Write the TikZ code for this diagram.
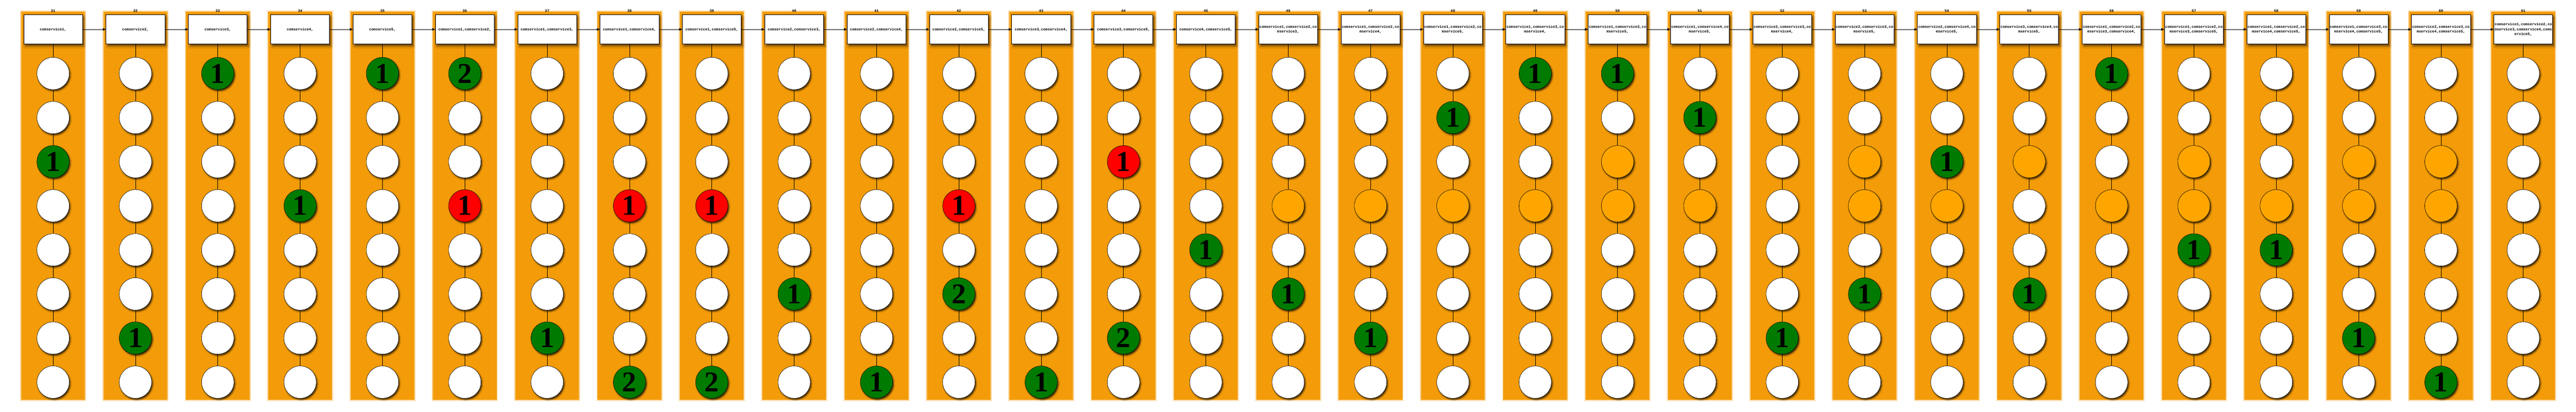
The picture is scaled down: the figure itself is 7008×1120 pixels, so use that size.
\documentclass[tikz,border=0pt]{standalone}
\usepackage{fontspec}
\usetikzlibrary{arrows.meta,shadows.blur}
\newfontfamily\digitfont{Liberation Serif}
\newfontfamily\boxmono{Liberation Mono}
\definecolor{bandc}{RGB}{243,155,8}
\definecolor{cgreen}{RGB}{0,122,0}
\definecolor{cred}{RGB}{255,0,0}
\definecolor{corange}{RGB}{255,165,0}
\begin{document}
\begin{tikzpicture}[x=1pt,y=-1pt,
 statebox/.style={draw=black, line width=1.1pt, fill=white, minimum width=160pt, minimum height=80pt,
   inner sep=0pt, align=center, font=\boxmono\bfseries\fontsize{10}{13}\selectfont,
   blur shadow={shadow xshift=4pt, shadow yshift=-6pt, shadow blur radius=5pt, shadow opacity=55}},
 circ/.style={circle, draw=black, line width=0.8pt, minimum size=88pt, inner sep=0pt,
   font=\digitfont\bfseries\fontsize{78}{78}\selectfont,
   blur shadow={shadow xshift=3pt, shadow yshift=-4pt, shadow blur radius=3pt, shadow opacity=70}},
 collabel/.style={font=\boxmono\bfseries\fontsize{10}{12}\selectfont, inner sep=0pt},
 link/.style={draw=black, line width=0.8pt},
 arr/.style={draw=black, line width=1pt, -{Triangle[length=8pt,width=7pt]}},
 bandfill/.style={fill=bandc}
]
\useasboundingbox (0,0) rectangle (7008,1120);
% orange column bands with a soft edge
\foreach \kk in {0,...,30}{
  \pgfmathsetmacro\cx{144.5+224*\kk}
  \fill[bandfill, opacity=0.25] (\cx-90,28.5) rectangle (\cx+90,1091.5);
  \fill[bandfill, opacity=0.5] (\cx-88,30.5) rectangle (\cx+88,1089.5);
  \fill[bandfill] (\cx-86,32.5) rectangle (\cx+86,1087.5);
}
\foreach \kk/\txt/\spec in {
 0/{comservice1,}/{3/cgreen/1},
 1/{comservice2,}/{7/cgreen/1},
 2/{comservice3,}/{1/cgreen/1},
 3/{comservice4,}/{4/cgreen/1},
 4/{comservice5,}/{1/cgreen/1},
 5/{comservice1,comservice2,}/{1/cgreen/2,4/cred/1},
 6/{comservice1,comservice3,}/{7/cgreen/1},
 7/{comservice1,comservice4,}/{4/cred/1,8/cgreen/2},
 8/{comservice1,comservice5,}/{4/cred/1,8/cgreen/2},
 9/{comservice2,comservice3,}/{6/cgreen/1},
 10/{comservice2,comservice4,}/{8/cgreen/1},
 11/{comservice2,comservice5,}/{4/cred/1,6/cgreen/2},
 12/{comservice3,comservice4,}/{8/cgreen/1},
 13/{comservice3,comservice5,}/{3/cred/1,7/cgreen/2},
 14/{comservice4,comservice5,}/{5/cgreen/1},
 15/{comservice1,comservice2,co\\mservice3,}/{4/corange/,6/cgreen/1},
 16/{comservice1,comservice2,co\\mservice4,}/{4/corange/,7/cgreen/1},
 17/{comservice1,comservice2,co\\mservice5,}/{2/cgreen/1,4/corange/},
 18/{comservice1,comservice3,co\\mservice4,}/{1/cgreen/1,4/corange/},
 19/{comservice1,comservice3,co\\mservice5,}/{1/cgreen/1,3/corange/,4/corange/},
 20/{comservice1,comservice4,co\\mservice5,}/{2/cgreen/1,4/corange/},
 21/{comservice2,comservice3,co\\mservice4,}/{7/cgreen/1},
 22/{comservice2,comservice3,co\\mservice5,}/{3/corange/,4/corange/,6/cgreen/1},
 23/{comservice2,comservice4,co\\mservice5,}/{3/cgreen/1,4/corange/},
 24/{comservice3,comservice4,co\\mservice5,}/{3/corange/,6/cgreen/1},
 25/{comservice1,comservice2,co\\mservice3,comservice4,}/{1/cgreen/1,4/corange/},
 26/{comservice1,comservice2,co\\mservice3,comservice5,}/{3/corange/,4/corange/,5/cgreen/1},
 27/{comservice1,comservice2,co\\mservice4,comservice5,}/{4/corange/,5/cgreen/1},
 28/{comservice1,comservice3,co\\mservice4,comservice5,}/{3/corange/,4/corange/,7/cgreen/1},
 29/{comservice2,comservice3,co\\mservice4,comservice5,}/{3/corange/,4/corange/,8/cgreen/1},
 30/{comservice1,comservice2,co\\mservice3,comservice4,coms\\ervice5,}/{3/corange/,4/corange/,6/cgreen/1}
}{
  \pgfmathsetmacro\cx{144.5+224*\kk}
  \pgfmathtruncatemacro\lab{31+\kk}
  \node[collabel] (l\kk) at (\cx,30) {\lab};
  \node[statebox] (b\kk) at (\cx,80) {\txt};
  \foreach \rr in {1,...,8}{%
    \expandafter\gdef\csname cs\rr\endcsname{white}%
    \expandafter\gdef\csname cn\rr\endcsname{}}
  \foreach \rr/\cc/\nn in \spec {%
    \expandafter\xdef\csname cs\rr\endcsname{\cc}%
    \expandafter\xdef\csname cn\rr\endcsname{\nn}}
  \foreach \rr in {1,...,8}{
    \edef\fc{\csname cs\rr\endcsname}
    \node[circ, fill=\fc] (c\kk-\rr) at (\cx,{200+120*(\rr-1)}) {\csname cn\rr\endcsname};
  }
}
% vertical connectors inside each column
\foreach \kk in {0,...,30}{
  \draw[link] (b\kk) -- (c\kk-1);
  \foreach \rr [evaluate=\rr as \rn using int(\rr+1)] in {1,...,7}
    \draw[link] (c\kk-\rr) -- (c\kk-\rn);
}
% arrows between consecutive boxes
\foreach \kk [evaluate=\kk as \kn using int(\kk+1)] in {0,...,29}
  \draw[arr] (b\kk) -- (b\kn);
\end{tikzpicture}
\end{document}
